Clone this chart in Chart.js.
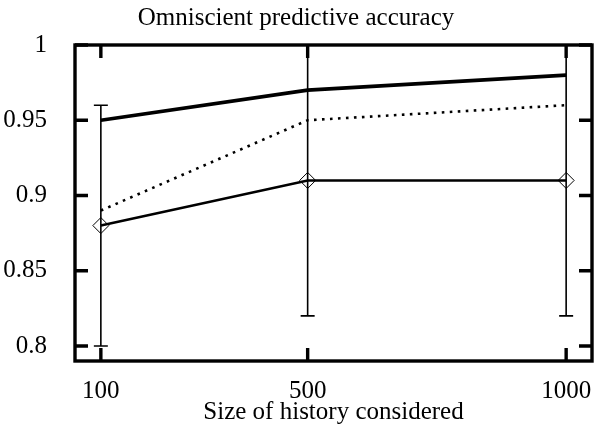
<!DOCTYPE html>
<html>
<head>
<meta charset="utf-8">
<script src="https://cdn.jsdelivr.net/npm/chart.js@4"></script>
<style>
  html, body { margin: 0; padding: 0; background: #fff; }
  #wrap { width: 594px; height: 431px; }
</style>
</head>
<body>
<div id="wrap"><canvas id="chart" width="594" height="431"></canvas></div>
<script>
// history sizes
const historySizes = [100, 500, 1000];
const yTicks = [0.8, 0.85, 0.9, 0.95, 1];

// series
const bestVals = [0.95, 0.97, 0.98];
const dottedVals = [0.89, 0.95, 0.96];
const meanVals = [0.88, 0.91, 0.91];
const errLow = [0.80, 0.82, 0.82];
const errHigh = [0.96, 1.00, 1.00];

const FONT = "'Liberation Serif', 'DejaVu Serif', serif";
const pts = vals => vals.map((v, i) => ({ x: historySizes[i], y: v }));

// error bars for the diamond series
const errorBars = {
  id: 'errorBars',
  beforeDatasetsDraw(chart) {
    const { ctx, chartArea, scales: { x, y } } = chart;
    ctx.save();
    ctx.beginPath();
    ctx.rect(chartArea.left, chartArea.top, chartArea.width, chartArea.height);
    ctx.clip();
    ctx.strokeStyle = '#000';
    ctx.lineWidth = 1.6;
    historySizes.forEach((h, i) => {
      const px = x.getPixelForValue(h);
      const lo = y.getPixelForValue(errLow[i]);
      const hi = y.getPixelForValue(errHigh[i]);
      ctx.beginPath();
      ctx.moveTo(px, lo); ctx.lineTo(px, hi);
      ctx.moveTo(px - 7, lo); ctx.lineTo(px + 7, lo);
      ctx.moveTo(px - 7, hi); ctx.lineTo(px + 7, hi);
      ctx.stroke();
    });
    ctx.restore();
  }
};

// gnuplot style frame with inward ticks on all four sides
const frame = {
  id: 'frame',
  afterDraw(chart) {
    const { ctx, chartArea: a, scales: { x, y } } = chart;
    ctx.save();
    ctx.strokeStyle = '#000';
    ctx.lineWidth = 3.4;
    ctx.strokeRect(a.left, a.top, a.width, a.height);
    const len = 13;
    ctx.beginPath();
    yTicks.forEach(v => {
      const py = y.getPixelForValue(v);
      ctx.moveTo(a.left, py); ctx.lineTo(a.left + len, py);
      ctx.moveTo(a.right, py); ctx.lineTo(a.right - len, py);
    });
    historySizes.forEach(h => {
      const px = x.getPixelForValue(h);
      ctx.moveTo(px, a.bottom); ctx.lineTo(px, a.bottom - len);
      ctx.moveTo(px, a.top); ctx.lineTo(px, a.top + len);
    });
    ctx.stroke();
    ctx.restore();
  }
};

new Chart(document.getElementById('chart'), {
  type: 'line',
  data: {
    datasets: [
      {
        label: 'best',
        data: pts(bestVals),
        borderColor: '#000',
        borderWidth: 3.6,
        pointRadius: 0,
        tension: 0
      },
      {
        label: 'dotted',
        data: pts(dottedVals),
        borderColor: '#000',
        borderWidth: 2.6,
        borderDash: [2.6, 5.4],
        pointRadius: 0,
        tension: 0
      },
      {
        label: 'mean',
        data: pts(meanVals),
        borderColor: '#000',
        borderWidth: 2.6,
        pointStyle: 'rectRot',
        pointRadius: 8,
        pointBorderWidth: 1,
        pointBorderColor: '#000',
        pointBackgroundColor: 'rgba(255,255,255,0)',
        tension: 0
      }
    ]
  },
  options: {
    responsive: false,
    animation: false,
    layout: { autoPadding: false, padding: { right: 2, left: 0, bottom: 0, top: 0 } },
    plugins: {
      legend: { display: false },
      tooltip: { enabled: false },
      title: {
        display: true,
        text: 'Omniscient predictive accuracy',
        color: '#000',
        font: { family: FONT, size: 25, weight: 'normal' },
        padding: { top: 3, bottom: 12 }
      }
    },
    scales: {
      x: {
        type: 'linear',
        min: 50,
        max: 1050,
        afterBuildTicks: s => { s.ticks = historySizes.map(v => ({ value: v })); },
        afterFit: s => { s.height = 70; s.paddingLeft = 0; s.paddingRight = 0; },
        ticks: {
          color: '#000',
          font: { family: FONT, size: 25 },
          padding: 7,
          maxRotation: 0,
          callback: v => String(v)
        },
        grid: { display: false },
        border: { display: false },
        title: {
          display: true,
          text: 'Size of history considered',
          color: '#000',
          font: { family: FONT, size: 25 },
          padding: { top: 0, bottom: 4 }
        }
      },
      y: {
        min: 0.79,
        max: 1.0,
        afterBuildTicks: s => { s.ticks = yTicks.map(v => ({ value: v })); },
        afterFit: s => { s.width = 75; s.paddingTop = 0; s.paddingBottom = 0; },
        ticks: {
          color: '#000',
          font: { family: FONT, size: 25 },
          padding: 20,
          callback: v => String(Math.round(v * 100) / 100)
        },
        grid: { display: false },
        border: { display: false }
      }
    }
  },
  plugins: [errorBars, frame]
});
</script>
</body>
</html>
